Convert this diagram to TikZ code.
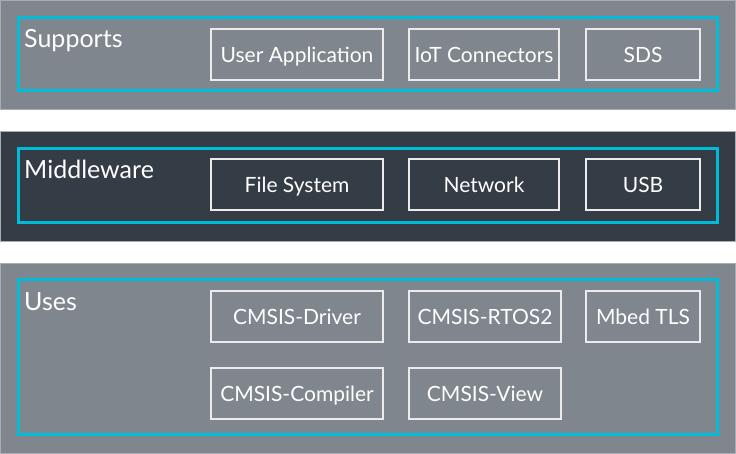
\documentclass[tikz,border=0pt]{standalone}
\usepackage{fontspec}
\setmainfont{Lato}
\usepackage{xcolor}
\usepackage{tikz}
\usetikzlibrary{positioning}

\definecolor{bandgrey}{HTML}{7F868D}
\definecolor{banddark}{HTML}{343C46}
\definecolor{bandedge}{HTML}{A9ADB1}
\definecolor{layercyan}{HTML}{00BCD8}

\begin{document}
\begin{tikzpicture}[x=1pt,y=-1pt]
		\tikzstyle{band}=[draw=bandedge, line width=1pt, fill=bandgrey, anchor=north west, inner sep=0, outer sep=0, minimum width=735pt]
		\tikzstyle{band_dark}=[band, fill=banddark]
		\tikzstyle{layer}=[draw=layercyan, line width=3pt, anchor=north west, inner sep=0, outer sep=0, minimum width=699pt]
		\tikzstyle{layer_text}=[text=white, font=\fontsize{25}{28}\selectfont, anchor=base west, inner sep=0]
		\tikzstyle{comp}=[draw=white!92!black, line width=1.3pt, text=white, font=\fontsize{21}{24}\selectfont, text height=15pt, text depth=0pt, anchor=north west, inner sep=0, outer sep=0, minimum height=51pt]

		\useasboundingbox (0,0) rectangle (736,453);

		% Supports
		\node [band, minimum height=109pt] (band1) at (0.5,0.5) {};
		\node [layer, minimum height=73pt] (supports) at (18,17) {};
		\node [layer_text] (supports_text) at (24,47) {Supports};
		\node [comp, minimum width=172pt] (userapp) at (211,29) {User Application};
		\node [comp, minimum width=150pt] (iot) at (409,29) {IoT Connectors};
		\node [comp, minimum width=114pt] (sds) at (586,29) {SDS};

		% Middleware
		\node [band_dark, minimum height=110pt] (band2) at (0.5,131) {};
		\node [layer, minimum height=74pt] (middleware) at (18,148) {};
		\node [layer_text] (middleware_text) at (24,178) {Middleware};
		\node [comp, minimum width=172pt] (filesys) at (211,159) {File System};
		\node [comp, minimum width=150pt] (network) at (409,159) {Network};
		\node [comp, minimum width=114pt] (usb) at (586,159) {USB};

		% Uses
		\node [band, minimum height=190pt] (band3) at (0.5,263) {};
		\node [layer, minimum height=155pt] (uses) at (18,279) {};
		\node [layer_text] (uses_text) at (24,310) {Uses};
		\node [comp, minimum width=172pt] (driver) at (211,291) {CMSIS-Driver};
		\node [comp, minimum width=152pt] (rtos) at (409,291) {CMSIS-RTOS2};
		\node [comp, minimum width=114pt] (mbedtls) at (586,291) {Mbed TLS};
		\node [comp, minimum width=172pt] (compiler) at (211,368) {CMSIS-Compiler};
		\node [comp, minimum width=152pt] (view) at (409,368) {CMSIS-View};
	\end{tikzpicture}
\end{document}
